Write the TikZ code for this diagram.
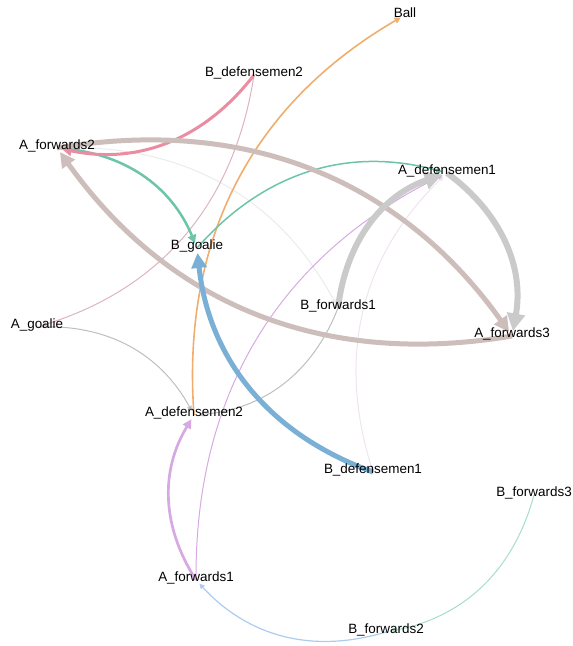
\documentclass[tikz,border=0pt]{standalone}
\usepackage{fontspec}
\setmainfont{Liberation Sans}
\usepackage{tikz}
\usetikzlibrary{arrows.meta}
\definecolor{taupe}{HTML}{CDBEBB}
\definecolor{silver}{HTML}{CACACA}
\definecolor{sky}{HTML}{7BB0D6}
\definecolor{rose}{HTML}{EA8CA2}
\definecolor{mint}{HTML}{6CC5A9}
\definecolor{peach}{HTML}{EFAE6E}
\definecolor{lilac}{HTML}{D7A9E3}
\definecolor{blush}{HTML}{DDB3C3}
\definecolor{ash}{HTML}{C0BDBD}
\definecolor{mist}{HTML}{EBEBEB}
\definecolor{haze}{HTML}{EFE4F0}
\definecolor{ice}{HTML}{ACCBF0}
\definecolor{seafoam}{HTML}{A3DFC7}
\tikzset{pass/.style={draw=#1, -{Triangle[length=2pt 2.6, width=2pt 2.6]}, shorten >=5bp}}
\tikzset{player/.style={font=\fontsize{13.5}{16}\selectfont, inner sep=0pt}}
\pgfdeclarelayer{links}
\pgfsetlayers{links,main}
\newcommand{\fpass}[4]{\draw[pass=#3, line width=#4bp] ([yshift=-2bp]#1.center) to[bend left=32] ([yshift=-2bp]#2.center);}

\begin{document}
\begin{tikzpicture}[x=1bp, y=-1bp]
\useasboundingbox (0,0) rectangle (573,646);
\node[player] (Ball) at (405,13) {Ball};
\node[player] (Bd2) at (254,73) {B\_defensemen2};
\node[player] (Af2) at (57,146) {A\_forwards2};
\node[player] (Ad1) at (447,171) {A\_defensemen1};
\node[player] (Bg) at (197,246) {B\_goalie};
\node[player] (Bf1) at (338,306) {B\_forwards1};
\node[player] (Ag) at (37,325) {A\_goalie};
\node[player] (Af3) at (512,334) {A\_forwards3};
\node[player] (Ad2) at (194,413) {A\_defensemen2};
\node[player] (Bd1) at (373,470) {B\_defensemen1};
\node[player] (Bf3) at (534,493) {B\_forwards3};
\node[player] (Af1) at (196,578) {A\_forwards1};
\node[player] (Bf2) at (386,630) {B\_forwards2};
\begin{pgfonlayer}{links}
\fpass{Af2}{Bf1}{mist}{1}
\fpass{Bd1}{Ad1}{haze}{1}
\fpass{Bd2}{Ag}{blush}{1}
\fpass{Ag}{Ad2}{ash}{1}
\fpass{Bf1}{Ad2}{ash}{1}
\fpass{Af1}{Ad1}{lilac}{1}
\fpass{Bf2}{Af1}{ice}{1.2}
\fpass{Bf3}{Bf2}{seafoam}{1}
\fpass{Ad2}{Ball}{peach}{1.6}
\fpass{Bg}{Ad1}{mint}{1.5}
\fpass{Af1}{Ad2}{lilac}{2.7}
\fpass{Af2}{Bg}{mint}{2.5}
\fpass{Bd2}{Af2}{rose}{3}
\fpass{Af2}{Af3}{taupe}{5}
\fpass{Af3}{Af2}{taupe}{5}
\fpass{Bd1}{Bg}{sky}{5}
\fpass{Bf1}{Ad1}{silver}{6}
\fpass{Ad1}{Af3}{silver}{6}
\end{pgfonlayer}
\end{tikzpicture}
\end{document}
